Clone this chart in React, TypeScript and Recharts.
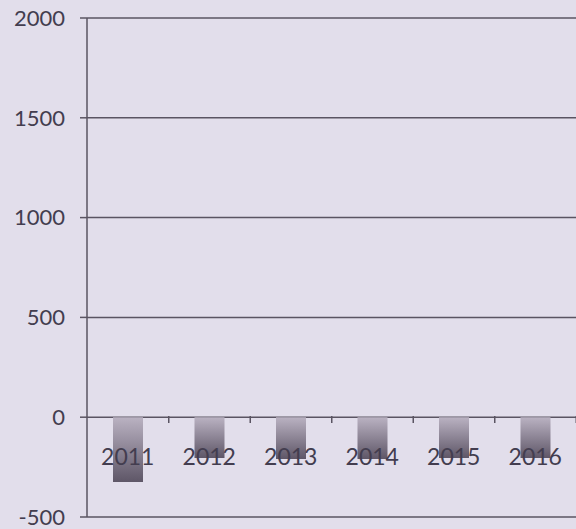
import React from 'react';
import { BarChart, Bar, XAxis, YAxis, CartesianGrid } from 'recharts';

const years = ['2011', '2012', '2013', '2014', '2015', '2016'];
const values = [-325, -205, -210, -210, -205, -205];
const yTicks = [-500, 0, 500, 1000, 1500, 2000];

const data = years.map((year, i) => ({ year, value: values[i] }));

const ink = '#433d4f';
const gridColor = '#5a5462';

// label sits ~61px above the plot bottom, boundary ticks hang under the zero line
const YearTick = (props: any) => {
  const { x, y, payload } = props;
  return (
    <g>
      <text
        x={x}
        y={y - 61}
        textAnchor="middle"
        dominantBaseline="central"
        fill={ink}
        fontSize={23}
        fontFamily="Lato"
      >
        {payload.value}
      </text>
      <line x1={x + 41} x2={x + 41} y1={y - 101} y2={y - 94} stroke={gridColor} strokeWidth={1.5} />
    </g>
  );
};

const App: React.FC = () => {
  return (
    <div style={{ width: 576, height: 529, background: '#e2deeb' }}>
      <style>{'body{margin:0}'}</style>
      <BarChart
        width={576}
        height={529}
        data={data}
        margin={{ top: 18, right: 0, bottom: 0, left: 0 }}
      >
        <defs>
          <linearGradient id="barShade" x1="0" y1="0" x2="0" y2="1">
            <stop offset="0%" stopColor="#bab2c2" />
            <stop offset="100%" stopColor="#5e5667" />
          </linearGradient>
        </defs>
        <CartesianGrid vertical={false} stroke={gridColor} strokeWidth={1.5} />
        <XAxis
          dataKey="year"
          height={12}
          axisLine={false}
          tickLine={false}
          tickSize={0}
          tickMargin={0}
          interval={0}
          tick={YearTick}
        />
        <YAxis
          width={87}
          domain={[-500, 2000]}
          ticks={yTicks}
          interval={0}
          axisLine={{ stroke: gridColor, strokeWidth: 1.5 }}
          tickLine={{ stroke: gridColor, strokeWidth: 1.5 }}
          tickSize={7}
          tickMargin={15}
          tick={{ fill: ink, fontSize: 22, fontFamily: 'Lato' }}
        />
        <Bar dataKey="value" fill="url(#barShade)" barSize={30} isAnimationActive={false} />
      </BarChart>
    </div>
  );
};

export default App;
